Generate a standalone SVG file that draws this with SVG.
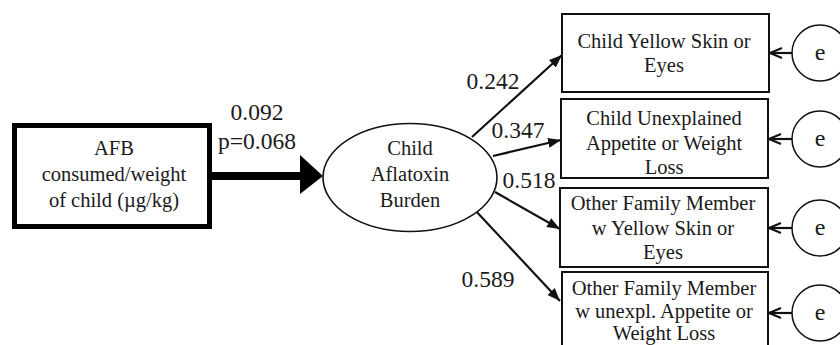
<svg xmlns="http://www.w3.org/2000/svg" width="840" height="345" viewBox="0 0 840 345">
<style>
text{font-family:"Liberation Serif","Tinos","Times New Roman","Noto Serif","DejaVu Serif",serif;fill:#1a1a1a;text-anchor:middle}
.t{font-size:20.5px}
.n{font-size:23.5px}
.e{font-size:24px}
.box{fill:#fff;stroke:#111;stroke-width:2}
.circ{fill:#fff;stroke:#111;stroke-width:1.5}
.conn{stroke:#111;stroke-width:2.2;fill:none}
</style>
<defs>
<marker id="tri" viewBox="0 0 13 10" refX="13" refY="5" markerWidth="13" markerHeight="10" markerUnits="userSpaceOnUse" orient="auto">
<path d="M0,0 L13,5 L0,10 z" fill="#111"/>
</marker>
<marker id="vee" viewBox="0 0 14 12" refX="13" refY="6" markerWidth="14" markerHeight="12" markerUnits="userSpaceOnUse" orient="auto">
<path d="M1,1 L13,6 L1,11" fill="none" stroke="#111" stroke-width="2"/>
</marker>
</defs>
<rect width="840" height="345" fill="#fff"/>
<g id="connectors">
<line x1="212" y1="176" x2="302" y2="176" stroke="#000" stroke-width="8"/>
<polygon points="300,155 323,176 300,194" fill="#000"/>
<line class="conn" x1="472" y1="137" x2="562" y2="55" marker-end="url(#tri)"/>
<line class="conn" x1="493" y1="156" x2="561" y2="140" marker-end="url(#tri)"/>
<line class="conn" x1="495" y1="192" x2="560" y2="229" marker-end="url(#tri)"/>
<line class="conn" x1="474" y1="209" x2="560" y2="301" marker-end="url(#tri)"/>
<line class="conn" x1="792" y1="53" x2="770" y2="53" marker-end="url(#vee)"/>
<line class="conn" x1="792" y1="139" x2="769" y2="139" marker-end="url(#vee)"/>
<line class="conn" x1="792" y1="228" x2="769" y2="228" marker-end="url(#vee)"/>
<line class="conn" x1="792" y1="313" x2="769" y2="313" marker-end="url(#vee)"/>
<text class="n" x="257" y="120">0.092</text>
<text class="n" x="257" y="149">p=0.068</text>
<text class="n" x="493" y="89">0.242</text>
<text class="n" x="518" y="138">0.347</text>
<text class="n" x="529" y="188">0.518</text>
<text class="n" x="488" y="287">0.589</text>
</g>
<g id="afb">
<rect x="14.5" y="125.5" width="195" height="101" fill="#fff" stroke="#000" stroke-width="5"/>
<text class="t" x="114" y="155">AFB</text>
<text class="t" x="114" y="181">consumed/weight</text>
<text class="t" x="114" y="207">of child (µg/kg)</text>
</g>
<g id="burden">
<ellipse cx="410" cy="177.5" rx="87" ry="54" fill="#fff" stroke="#111" stroke-width="1.6"/>
<text class="t" x="410" y="155">Child</text>
<text class="t" x="410" y="181">Aflatoxin</text>
<text class="t" x="410" y="207">Burden</text>
</g>
<g id="box1">
<rect class="box" x="562" y="14" width="207" height="78"/>
<text class="t" x="664" y="48">Child Yellow Skin or</text>
<text class="t" x="664" y="72">Eyes</text>
</g>
<g id="box2">
<rect class="box" x="561" y="99" width="207" height="79"/>
<text class="t" x="664" y="125">Child Unexplained</text>
<text class="t" x="664" y="150">Appetite or Weight</text>
<text class="t" x="664" y="174">Loss</text>
</g>
<g id="box3">
<rect class="box" x="560" y="188" width="208" height="79"/>
<text class="t" x="663" y="210">Other Family Member</text>
<text class="t" x="663" y="235">w Yellow Skin or</text>
<text class="t" x="663" y="259">Eyes</text>
</g>
<g id="box4">
<rect class="box" x="562" y="272" width="206" height="80"/>
<text class="t" x="664" y="295">Other Family Member</text>
<text class="t" x="664" y="318">w unexpl. Appetite or</text>
<text class="t" x="664" y="340">Weight Loss</text>
</g>
<g id="e1"><circle class="circ" cx="820" cy="53" r="28"/><text class="e" x="820" y="60">e</text></g>
<g id="e2"><circle class="circ" cx="820" cy="139" r="28"/><text class="e" x="820" y="146">e</text></g>
<g id="e3"><circle class="circ" cx="820" cy="228" r="28"/><text class="e" x="820" y="235">e</text></g>
<g id="e4"><circle class="circ" cx="820" cy="313" r="28"/><text class="e" x="820" y="320">e</text></g>
</svg>
